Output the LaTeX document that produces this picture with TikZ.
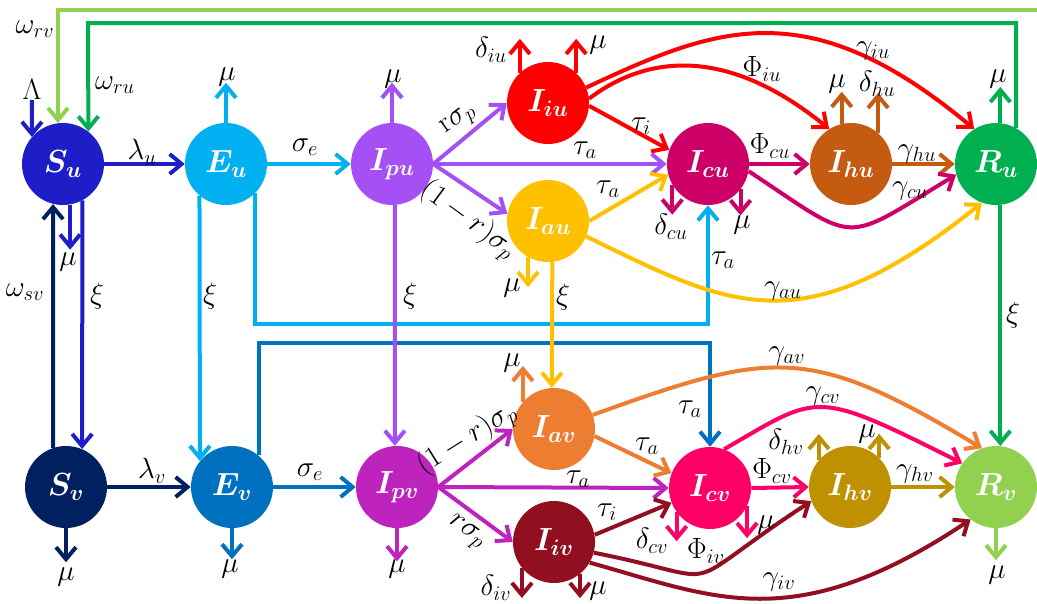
\RequirePackage{fix-cm}
\documentclass[tikz,border=0pt]{standalone}
\usepackage{bm}
\usetikzlibrary{arrows.meta}
\definecolor{cSu}{RGB}{30,30,200}
\definecolor{cSv}{RGB}{0,32,96}
\definecolor{cEu}{RGB}{0,176,240}
\definecolor{cEv}{RGB}{0,112,192}
\definecolor{cIpu}{RGB}{165,80,245}
\definecolor{cIpv}{RGB}{190,35,190}
\definecolor{cIiu}{RGB}{255,0,0}
\definecolor{cIiv}{RGB}{145,15,30}
\definecolor{cIau}{RGB}{255,192,0}
\definecolor{cIav}{RGB}{237,125,49}
\definecolor{cIcu}{RGB}{204,0,102}
\definecolor{cIcv}{RGB}{255,0,102}
\definecolor{cIhu}{RGB}{197,90,17}
\definecolor{cIhv}{RGB}{191,144,0}
\definecolor{cRu}{RGB}{0,176,80}
\definecolor{cRv}{RGB}{146,208,80}
\begin{document}
\begin{tikzpicture}[x=0.75pt,y=-0.75pt,
  cmpt/.style={circle,fill=#1,minimum size=61.5pt,inner sep=0pt,text=white,font=\fontsize{24}{27}\selectfont},
  arw/.style={draw=#1,line width=3pt,-{Straight Barb[length=9pt,width=15pt]}},
  lbl/.style={inner sep=0pt,font=\fontsize{22}{25}\selectfont}]
\useasboundingbox (0,0) rectangle (1037,603);
% compartments
\node[cmpt=cSu] (Su) at (63,164) {$\bm{S_u}$};
\node[cmpt=cEu] (Eu) at (226,164) {$\bm{E_u}$};
\node[cmpt=cIpu] (Ipu) at (392,164) {$\bm{I_{pu}}$};
\node[cmpt=cIiu] (Iiu) at (548,103) {$\bm{I_{iu}}$};
\node[cmpt=cIau] (Iau) at (548,221) {$\bm{I_{au}}$};
\node[cmpt=cIcu] (Icu) at (708,164) {$\bm{I_{cu}}$};
\node[cmpt=cIhu] (Ihu) at (851,164) {$\bm{I_{hu}}$};
\node[cmpt=cRu] (Ru) at (996,164) {$\bm{R_u}$};
\node[cmpt=cSv] (Sv) at (66,487) {$\bm{S_v}$};
\node[cmpt=cEv] (Ev) at (232,487) {$\bm{E_v}$};
\node[cmpt=cIpv] (Ipv) at (397,487) {$\bm{I_{pv}}$};
\node[cmpt=cIav] (Iav) at (554,429) {$\bm{I_{av}}$};
\node[cmpt=cIiv] (Iiv) at (554,542) {$\bm{I_{iv}}$};
\node[cmpt=cIcv] (Icv) at (710,488) {$\bm{I_{cv}}$};
\node[cmpt=cIhv] (Ihv) at (850,487) {$\bm{I_{hv}}$};
\node[cmpt=cRv] (Rv) at (996,487) {$\bm{R_v}$};
% routing points
\coordinate (rvc) at (1037,10);
\coordinate (ruc) at (88,23);
\coordinate (lam) at (32,100);
\coordinate (tu) at (708,324);
\coordinate (tv) at (710,343);
% long routed lines
\draw[arw=cRv] (rvc) -| (Su.97);
\draw[arw=cRu] (Ru.61) |- (ruc) -- (Su.52);
\draw[arw=cSu] (lam) -- (Su.139);
\draw[arw=cEu] (Eu.-45) |- (tu) -- (Icu.south);
\draw[arw=cEv] (Ev.50) |- (tv) -- (Icv.north);
% vertical xi / omega lines
\draw[arw=cSu] (Su.-62) -- (Sv.67);
\draw[arw=cSv] (Sv.108) -- (Su.-104);
\draw[arw=cEu] (Eu.-130) -- (Ev.141);
\draw[arw=cIpu] (Ipu.-86) -- (Ipv.93);
\draw[arw=cIau] (Iau.-84) -- (Iav.93);
\draw[arw=cRu] (Ru.-84) -- (Rv.84);
% top row flows
\draw[arw=cSu] (Su.east) -- (Eu.west);
\draw[arw=cEu] (Eu.east) -- (Ipu.west);
\draw[arw=cIpu] (Ipu.east) -- (Iiu.west);
\draw[arw=cIpu] (Ipu.east) -- (Icu.west);
\draw[arw=cIpu] (Ipu.east) -- (Iau.170);
\draw[arw=cIiu] (Iiu.-4) -- (Icu.160);
\draw[arw=cIau] (Iau.east) -- (Icu.195);
\draw[arw=cIcu] (Icu.east) -- (Ihu.west);
\draw[arw=cIhu] (Ihu.east) -- (Ru.west);
\draw[arw=cIiu] (Iiu.6) .. controls (640,60) and (720,40) .. (Ihu.122);
\draw[arw=cIiu] (Iiu.22) .. controls (714,28) and (807,-11) .. (Ru.122);
\draw[arw=cIcu] (Icu.-10) .. controls (860,245) and (840,245) .. (Ru.195);
\draw[arw=cIau] (Iau.-22) .. controls (729,306) and (801,348) .. (Ru.250);
% bottom row flows
\draw[arw=cSv] (Sv.east) -- (Ev.west);
\draw[arw=cEv] (Ev.east) -- (Ipv.west);
\draw[arw=cIpv] (Ipv.east) -- (Iav.west);
\draw[arw=cIpv] (Ipv.east) -- (Icv.west);
\draw[arw=cIpv] (Ipv.east) -- (Iiv.west);
\draw[arw=cIav] (Iav.-10) -- (Icv.159);
\draw[arw=cIiv] (Iiv.10) -- (Icv.201);
\draw[arw=cIcv] (Icv.east) -- (Ihv.west);
\draw[arw=cIhv] (Ihv.east) -- (Rv.west);
\draw[arw=cIav] (Iav.20) .. controls (773,350) and (809,344) .. (Rv.110);
\draw[arw=cIcv] (Icv.70) .. controls (820,394) and (812,388) .. (Rv.145);
\draw[arw=cIiv] (Iiv.-15) .. controls (737,581) and (668,595) .. (Ihv.200);
\draw[arw=cIiv] (Iiv.-30) .. controls (714,597) and (793,638) .. (Rv.232);
% outflow stubs top
\draw[arw=cSu] (Su.-80) -- ++(0,45);
\draw[arw=cEu] (Eu.north) -- ++(0,-40);
\draw[arw=cIpu] (Ipu.north) -- ++(0,-40);
\draw[arw=cIiu] (Iiu.133) -- ++(0,-34);
\draw[arw=cIiu] (Iiu.47) -- ++(0,-34);
\draw[arw=cIau] (Iau.-119) -- ++(0,30);
\draw[arw=cIcu] (Icu.-150) -- ++(0,30);
\draw[arw=cIcu] (Icu.-38) -- ++(0,26);
\draw[arw=cIhu] (Ihu.103) -- ++(0,-32);
\draw[arw=cIhu] (Ihu.49) -- ++(0,-40);
\draw[arw=cRu] (Ru.84) -- ++(0,-36);
% outflow stubs bottom
\draw[arw=cSv] (Sv.south) -- ++(0,34);
\draw[arw=cEv] (Ev.south) -- ++(0,31);
\draw[arw=cIpv] (Ipv.south) -- ++(0,33);
\draw[arw=cIav] (Iav.139) -- ++(0,-36);
\draw[arw=cIiv] (Iiv.-141) -- ++(0,30);
\draw[arw=cIiv] (Iiv.-51) -- ++(0,24);
\draw[arw=cIcv] (Icv.-144) -- ++(0,29);
\draw[arw=cIcv] (Icv.-26) -- ++(0,32);
\draw[arw=cIhv] (Ihv.139) -- ++(0,-26);
\draw[arw=cIhv] (Ihv.45) -- ++(0,-24);
\draw[arw=cRv] (Rv.south) -- ++(0,32);
% labels top
\node[lbl] (l1) at (32,89) {$\Lambda$};
\node[lbl] (l2) at (35,29) {$\omega_{rv}$};
\node[lbl] (l3) at (115,85) {$\omega_{ru}$};
\node[lbl] (l4) at (142,152) {$\lambda_u$};
\node[lbl] (l5) at (68,262) {$\mu$};
\node[lbl] (l6) at (97,296) {$\xi$};
\node[lbl] (l7) at (25,292) {$\omega_{sv}$};
\node[lbl] (l8) at (227,77) {$\mu$};
\node[lbl] (l9) at (210,296) {$\xi$};
\node[lbl] (l10) at (305,147) {$\sigma_e$};
\node[lbl] (l11) at (393,79) {$\mu$};
\node[lbl,rotate=36] (l12) at (459,121) {$\mathrm{r}\sigma_p$};
\node[lbl] (l13) at (585,150) {$\tau_a$};
\node[lbl,rotate=-36] (l14) at (468,220) {$(1-r)\sigma_p$};
\node[lbl] (l15) at (410,296) {$\xi$};
\node[lbl] (l16) at (491,50) {$\delta_{iu}$};
\node[lbl] (l17) at (598,45) {$\mu$};
\node[lbl] (l18) at (641,126) {$\tau_i$};
\node[lbl] (l19) at (608,189) {$\tau_a$};
\node[lbl] (l20) at (512,288) {$\mu$};
\node[lbl] (l21) at (563,297) {$\xi$};
\node[lbl] (l22) at (762,69) {$\Phi_{iu}$};
\node[lbl] (l23) at (873,51) {$\gamma_{iu}$};
\node[lbl] (l24) at (837,84) {$\mu$};
\node[lbl] (l25) at (877,84) {$\delta_{hu}$};
\node[lbl] (l26) at (998,79) {$\mu$};
\node[lbl] (l27) at (770,146) {$\Phi_{cu}$};
\node[lbl] (l28) at (917,154) {$\gamma_{hu}$};
\node[lbl] (l29) at (910,191) {$\gamma_{cu}$};
\node[lbl] (l30) at (671,227) {$\delta_{cu}$};
\node[lbl] (l31) at (742,225) {$\mu$};
\node[lbl] (l32) at (723,260) {$\tau_a$};
\node[lbl] (l33) at (783,291) {$\gamma_{au}$};
\node[lbl] (l34) at (1013,315) {$\xi$};
% labels bottom
\node[lbl] (m1) at (152,471) {$\lambda_v$};
\node[lbl] (m2) at (310,472) {$\sigma_e$};
\node[lbl] (m3) at (66,577) {$\mu$};
\node[lbl] (m4) at (230,569) {$\mu$};
\node[lbl] (m5) at (397,569) {$\mu$};
\node[lbl,rotate=32] (m6) at (467,439) {$(1-r)\sigma_p$};
\node[lbl] (m7) at (578,479) {$\tau_a$};
\node[lbl,rotate=-36] (m8) at (466,533) {$r\sigma_p$};
\node[lbl] (m9) at (512,363) {$\mu$};
\node[lbl] (m10) at (647,446) {$\tau_a$};
\node[lbl] (m11) at (607,512) {$\tau_i$};
\node[lbl] (m12) at (652,541) {$\delta_{cv}$};
\node[lbl] (m13) at (766,525) {$\mu$};
\node[lbl] (m14) at (706,551) {$\Phi_{iv}$};
\node[lbl] (m15) at (779,582) {$\gamma_{iv}$};
\node[lbl] (m16) at (496,588) {$\delta_{iv}$};
\node[lbl] (m17) at (598,591) {$\mu$};
\node[lbl] (m18) at (690,409) {$\tau_a$};
\node[lbl] (m19) at (787,356) {$\gamma_{av}$};
\node[lbl] (m20) at (823,396) {$\gamma_{cv}$};
\node[lbl] (m21) at (786,442) {$\delta_{hv}$};
\node[lbl] (m22) at (867,434) {$\mu$};
\node[lbl] (m23) at (772,471) {$\Phi_{cv}$};
\node[lbl] (m24) at (915,474) {$\gamma_{hv}$};
\node[lbl] (m25) at (997,575) {$\mu$};
\end{tikzpicture}
\end{document}
